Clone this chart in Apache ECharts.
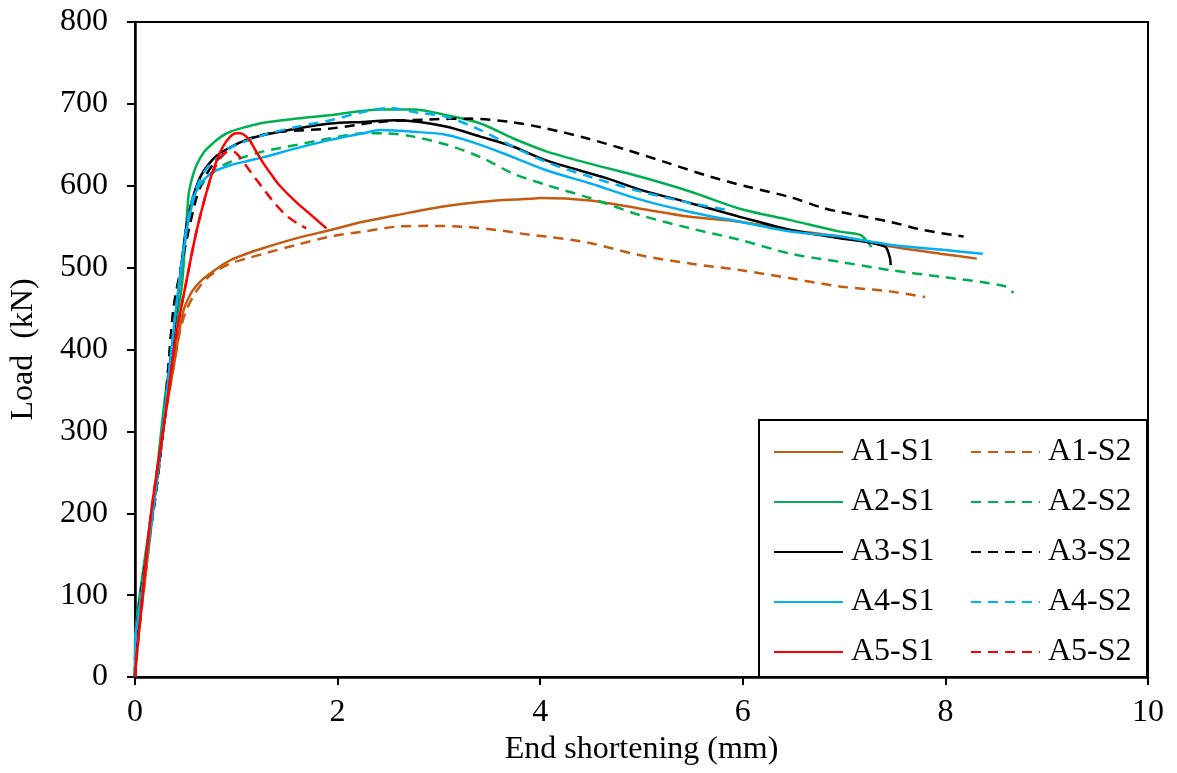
<!DOCTYPE html>
<html>
<head>
<meta charset="utf-8">
<script src="https://cdn.jsdelivr.net/npm/echarts@6/dist/echarts.min.js"></script>
<style>
  html, body { margin: 0; padding: 0; background: #fff; }
  #chart { width: 1177px; height: 773px; }
</style>
</head>
<body>
<div id="chart"></div>
<script>
// Load vs. end shortening curves, pairs of [shortening (mm), load (kN)]
const A1_S1 = [[0,0],[0.02,35],[0.1,120],[0.2,225],[0.3,320],[0.39,385],[0.44,424],[0.48,448],[0.54,466],[0.6,477],[0.67,486],[0.81,499],[0.94,509],[1.1,517],[1.27,524],[1.6,536],[1.93,546],[2.25,556],[2.58,564],[2.91,572],[3.24,578],[3.57,582],[3.9,584],[4.0,585],[4.49,582],[4.99,572],[5.48,562],[5.97,556],[6.47,546],[6.96,538],[7.45,526],[7.95,517],[8.31,511]];
const A1_S2 = [[0,0],[0.02,35],[0.1,120],[0.2,225],[0.3,320],[0.39,385],[0.44,420],[0.5,446],[0.6,470],[0.71,487],[0.82,497],[0.94,505],[1.1,511],[1.27,517],[1.6,528],[1.93,538],[2.25,544],[2.58,550],[2.91,551],[3.24,550],[3.57,546],[3.9,540],[4.06,538],[4.49,530],[4.99,515],[5.48,505],[5.97,497],[6.47,487],[6.96,477],[7.45,471],[7.8,464]];
const A2_S1 = [[0,0],[0.01,60],[0.08,130],[0.2,235],[0.3,345],[0.4,430],[0.46,475],[0.5,540],[0.53,590],[0.57,612],[0.61,626],[0.68,641],[0.77,652],[0.85,660],[0.94,666],[1.1,672],[1.27,677],[1.6,682],[1.92,686],[2.42,693],[2.75,693],[3.08,686],[3.41,676],[3.73,658],[4.06,642],[4.49,627],[4.99,611],[5.48,593],[5.97,572],[6.47,558],[6.96,544],[7.16,540],[7.24,530],[7.27,525]];
const A2_S2 = [[0,0],[0.01,55],[0.08,125],[0.2,220],[0.28,308],[0.33,380],[0.38,450],[0.44,490],[0.53,548],[0.6,585],[0.67,603],[0.74,614],[0.84,623],[0.94,629],[1.1,636],[1.27,642],[1.6,650],[1.93,658],[2.25,664],[2.48,664],[2.75,660],[3.08,650],[3.41,635],[3.73,615],[4.06,601],[4.49,585],[4.99,564],[5.48,548],[5.97,534],[6.47,517],[6.96,507],[7.45,497],[7.95,489],[8.6,477],[8.67,469]];
const A3_S1 = [[0,0],[0.02,40],[0.1,135],[0.2,225],[0.3,325],[0.4,440],[0.5,545],[0.55,576],[0.6,597],[0.65,612],[0.7,622],[0.8,636],[0.94,647],[1.1,656],[1.27,662],[1.6,670],[1.93,676],[2.25,678],[2.58,680],[2.81,678],[3.08,672],[3.41,660],[3.73,648],[4.06,631],[4.66,609],[4.99,595],[5.48,579],[5.97,562],[6.47,546],[6.96,536],[7.4,526],[7.45,513],[7.46,503]];
const A3_S2 = [[0,0],[0.01,50],[0.08,122],[0.2,218],[0.28,306],[0.33,380],[0.38,450],[0.44,492],[0.53,546],[0.61,587],[0.66,604],[0.71,615],[0.77,626],[0.84,635],[0.95,647],[1.1,656],[1.25,662],[1.43,666],[1.93,670],[2.42,678],[2.91,681],[3.31,682],[3.7,678],[4.06,670],[4.46,658],[4.85,644],[5.28,627],[5.68,611],[6.04,599],[6.47,586],[6.79,573],[6.96,568],[7.45,556],[7.78,546],[8.18,538]];
const A4_S1 = [[0,0],[0,45],[0.03,70],[0.1,135],[0.2,225],[0.3,330],[0.4,445],[0.5,538],[0.55,570],[0.6,592],[0.67,606],[0.74,614],[0.81,619],[0.94,625],[1.1,630],[1.27,635],[1.6,646],[1.93,656],[2.25,664],[2.42,668],[2.75,666],[3.08,662],[3.41,650],[3.73,635],[4.06,619],[4.49,603],[4.99,583],[5.48,568],[5.97,556],[6.47,544],[6.96,538],[7.45,528],[7.95,522],[8.37,517]];
const A4_S2 = [[0,0],[0.01,50],[0.1,130],[0.2,222],[0.3,330],[0.4,445],[0.5,543],[0.55,576],[0.6,596],[0.7,620],[0.81,634],[0.92,645],[1.04,652],[1.27,662],[1.6,672],[1.93,680],[2.25,690],[2.52,695],[2.75,690],[3.08,684],[3.41,668],[3.73,648],[4.06,629],[4.49,611],[4.99,593],[5.48,579],[5.87,570]];
const A5_S1 = [[0,0],[0.02,30],[0.155,196],[0.3,320],[0.41,420],[0.51,485],[0.61,546],[0.74,607],[0.81,632],[0.87,648],[0.94,660],[1.0,664],[1.04,664],[1.09,661],[1.14,654],[1.2,641],[1.27,627],[1.35,613],[1.43,600],[1.6,579],[1.76,562],[1.89,548]];
const A5_S2 = [[0,0],[0.02,30],[0.155,196],[0.3,320],[0.41,420],[0.51,485],[0.61,546],[0.74,607],[0.8,625],[0.86,636],[0.92,642],[0.97,642],[1.02,637],[1.07,629],[1.17,612],[1.27,596],[1.37,580],[1.5,563],[1.63,552],[1.69,548]];

const xTicks = [0, 2, 4, 6, 8, 10];
const yTicks = [0, 100, 200, 300, 400, 500, 600, 700, 800];

const seriesDefs = [
  { name: 'A1-S1', data: A1_S1, color: '#C55A11', dashed: false },
  { name: 'A1-S2', data: A1_S2, color: '#C55A11', dashed: true },
  { name: 'A2-S1', data: A2_S1, color: '#00B050', dashed: false },
  { name: 'A2-S2', data: A2_S2, color: '#00B050', dashed: true },
  { name: 'A3-S1', data: A3_S1, color: '#000000', dashed: false },
  { name: 'A3-S2', data: A3_S2, color: '#000000', dashed: true },
  { name: 'A4-S1', data: A4_S1, color: '#00B0F0', dashed: false },
  { name: 'A4-S2', data: A4_S2, color: '#00B0F0', dashed: true },
  { name: 'A5-S1', data: A5_S1, color: '#FF0000', dashed: false },
  { name: 'A5-S2', data: A5_S2, color: '#FF0000', dashed: true }
];

const FONT = '"Liberation Serif", "Times New Roman", serif';
const FS = 32;

const legendCommon = {
  orient: 'vertical',
  top: 436,
  padding: 0,
  itemWidth: 69,
  itemHeight: 14,
  itemGap: 18,
  selectedMode: false,
  z: 10,
  itemStyle: { opacity: 0 },
  textStyle: { fontFamily: FONT, fontSize: FS, color: '#000', lineHeight: 32, padding: [0, 0, 0, 3] }
};

const chart = echarts.init(document.getElementById('chart'), null, { renderer: 'canvas' });

chart.setOption({
  animation: false,
  backgroundColor: '#fff',
  grid: {
    left: 135, right: 29, top: 22, bottom: 96,
    show: true, borderColor: '#000', borderWidth: 2, backgroundColor: 'transparent'
  },
  graphic: [{
    type: 'rect',
    z: 5,
    shape: { x: 759, y: 420, width: 388, height: 257 },
    style: { fill: '#fff', stroke: '#000', lineWidth: 2 }
  }],
  legend: [
    Object.assign({}, legendCommon, { left: 773, data: ['A1-S1', 'A2-S1', 'A3-S1', 'A4-S1', 'A5-S1'] }),
    Object.assign({}, legendCommon, { left: 970, data: ['A1-S2', 'A2-S2', 'A3-S2', 'A4-S2', 'A5-S2'] })
  ],
  xAxis: {
    type: 'value',
    min: xTicks[0], max: xTicks[xTicks.length - 1], interval: 2,
    name: 'End shortening (mm)',
    nameLocation: 'middle',
    nameGap: 56,
    nameTextStyle: { fontFamily: FONT, fontSize: FS, color: '#000' },
    axisLine: { onZero: false, lineStyle: { color: '#000', width: 2.5 } },
    axisTick: { show: true, length: 8, lineStyle: { color: '#000', width: 2 } },
    axisLabel: { fontFamily: FONT, fontSize: FS, color: '#000', margin: 20 },
    splitLine: { show: false }
  },
  yAxis: {
    type: 'value',
    min: yTicks[0], max: yTicks[yTicks.length - 1], interval: 100,
    name: 'Load  (kN)',
    nameLocation: 'middle',
    nameGap: 95,
    nameTextStyle: { fontFamily: FONT, fontSize: FS, color: '#000' },
    axisLine: { show: true, onZero: false, lineStyle: { color: '#000', width: 2.5 } },
    axisTick: { show: true, length: 8, lineStyle: { color: '#000', width: 2 } },
    axisLabel: { fontFamily: FONT, fontSize: FS, color: '#000', margin: 27 },
    splitLine: { show: false }
  },
  series: seriesDefs.map(s => ({
    name: s.name,
    type: 'line',
    data: s.data,
    symbol: 'none',
    smooth: 0.3,
    clip: true,
    color: s.color,
    lineStyle: { color: s.color, width: 2.5, type: s.dashed ? [10, 7] : 'solid' }
  }))
});
</script>
</body>
</html>
